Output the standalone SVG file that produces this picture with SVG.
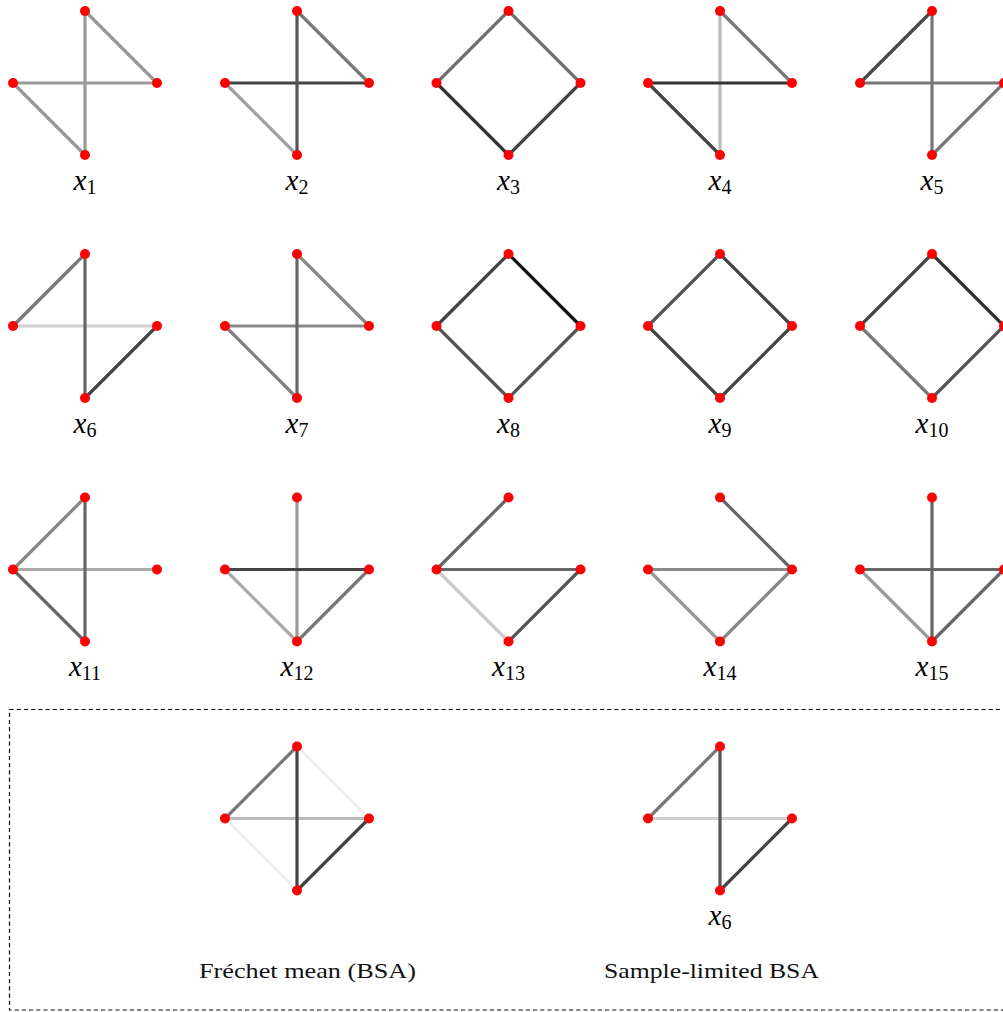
<svg xmlns="http://www.w3.org/2000/svg" width="1003" height="1012" viewBox="0 0 1003 1012">
<style>
.e{stroke-width:3.2;fill:none;stroke-linecap:butt}
.n{fill:#ff0000}
.lx{font-style:italic;font-size:29px;fill:#000}
.sub{font-style:normal;font-size:20px}
.cap{font-size:22px;fill:#111}
</style>
<rect width="1003" height="1012" fill="#ffffff"/>
<g font-family="Liberation Serif, Times New Roman, Times, serif">
<!-- Row 1 -->
<g id="g1" transform="translate(85,83)">
 <g class="connectors">
  <line class="e" x1="0" y1="-72" x2="72" y2="0" stroke="#9a9a9a"/>
  <line class="e" x1="-72" y1="0" x2="72" y2="0" stroke="#9a9a9a"/>
  <line class="e" x1="0" y1="-72" x2="0" y2="72" stroke="#9a9a9a"/>
  <line class="e" x1="-72" y1="0" x2="0" y2="72" stroke="#9a9a9a"/>
 </g>
 <circle class="n" cx="0" cy="-72" r="5"/><circle class="n" cx="-72" cy="0" r="5"/><circle class="n" cx="72" cy="0" r="5"/><circle class="n" cx="0" cy="72" r="5"/>
 <text class="lx" x="0" y="107" text-anchor="middle">x<tspan class="sub" dy="4">1</tspan></text>
</g>
<g id="g2" transform="translate(297,83)">
 <g class="connectors">
  <line class="e" x1="0" y1="-72" x2="72" y2="0" stroke="#777"/>
  <line class="e" x1="-72" y1="0" x2="72" y2="0" stroke="#444"/>
  <line class="e" x1="0" y1="-72" x2="0" y2="72" stroke="#555"/>
  <line class="e" x1="-72" y1="0" x2="0" y2="72" stroke="#a0a0a0"/>
 </g>
 <circle class="n" cx="0" cy="-72" r="5"/><circle class="n" cx="-72" cy="0" r="5"/><circle class="n" cx="72" cy="0" r="5"/><circle class="n" cx="0" cy="72" r="5"/>
 <text class="lx" x="0" y="107" text-anchor="middle">x<tspan class="sub" dy="4">2</tspan></text>
</g>
<g id="g3" transform="translate(508.5,83)">
 <g class="connectors">
  <line class="e" x1="0" y1="-72" x2="-72" y2="0" stroke="#707070"/>
  <line class="e" x1="0" y1="-72" x2="72" y2="0" stroke="#707070"/>
  <line class="e" x1="-72" y1="0" x2="0" y2="72" stroke="#333"/>
  <line class="e" x1="72" y1="0" x2="0" y2="72" stroke="#444"/>
 </g>
 <circle class="n" cx="0" cy="-72" r="5"/><circle class="n" cx="-72" cy="0" r="5"/><circle class="n" cx="72" cy="0" r="5"/><circle class="n" cx="0" cy="72" r="5"/>
 <text class="lx" x="0" y="107" text-anchor="middle">x<tspan class="sub" dy="4">3</tspan></text>
</g>
<g id="g4" transform="translate(720,83)">
 <g class="connectors">
  <line class="e" x1="0" y1="-72" x2="0" y2="72" stroke="#bbb"/>
  <line class="e" x1="0" y1="-72" x2="72" y2="0" stroke="#777"/>
  <line class="e" x1="-72" y1="0" x2="72" y2="0" stroke="#333"/>
  <line class="e" x1="-72" y1="0" x2="0" y2="72" stroke="#444"/>
 </g>
 <circle class="n" cx="0" cy="-72" r="5"/><circle class="n" cx="-72" cy="0" r="5"/><circle class="n" cx="72" cy="0" r="5"/><circle class="n" cx="0" cy="72" r="5"/>
 <text class="lx" x="0" y="107" text-anchor="middle">x<tspan class="sub" dy="4">4</tspan></text>
</g>
<g id="g5" transform="translate(932,83)">
 <g class="connectors">
  <line class="e" x1="0" y1="-72" x2="-72" y2="0" stroke="#444"/>
  <line class="e" x1="0" y1="-72" x2="0" y2="72" stroke="#777"/>
  <line class="e" x1="-72" y1="0" x2="72" y2="0" stroke="#777"/>
  <line class="e" x1="72" y1="0" x2="0" y2="72" stroke="#777"/>
 </g>
 <circle class="n" cx="0" cy="-72" r="5"/><circle class="n" cx="-72" cy="0" r="5"/><circle class="n" cx="72" cy="0" r="5"/><circle class="n" cx="0" cy="72" r="5"/>
 <text class="lx" x="0" y="107" text-anchor="middle">x<tspan class="sub" dy="4">5</tspan></text>
</g>
<!-- Row 2 -->
<g id="g6" transform="translate(85,326)">
 <g class="connectors">
  <line class="e" x1="0" y1="-72" x2="-72" y2="0" stroke="#777"/>
  <line class="e" x1="-72" y1="0" x2="72" y2="0" stroke="#d0d0d0"/>
  <line class="e" x1="0" y1="-72" x2="0" y2="72" stroke="#666"/>
  <line class="e" x1="72" y1="0" x2="0" y2="72" stroke="#444"/>
 </g>
 <circle class="n" cx="0" cy="-72" r="5"/><circle class="n" cx="-72" cy="0" r="5"/><circle class="n" cx="72" cy="0" r="5"/><circle class="n" cx="0" cy="72" r="5"/>
 <text class="lx" x="0" y="107" text-anchor="middle">x<tspan class="sub" dy="4">6</tspan></text>
</g>
<g id="g7" transform="translate(297,326)">
 <g class="connectors">
  <line class="e" x1="0" y1="-72" x2="72" y2="0" stroke="#888"/>
  <line class="e" x1="-72" y1="0" x2="72" y2="0" stroke="#888"/>
  <line class="e" x1="-72" y1="0" x2="0" y2="72" stroke="#808080"/>
  <line class="e" x1="0" y1="-72" x2="0" y2="72" stroke="#666"/>
 </g>
 <circle class="n" cx="0" cy="-72" r="5"/><circle class="n" cx="-72" cy="0" r="5"/><circle class="n" cx="72" cy="0" r="5"/><circle class="n" cx="0" cy="72" r="5"/>
 <text class="lx" x="0" y="107" text-anchor="middle">x<tspan class="sub" dy="4">7</tspan></text>
</g>
<g id="g8" transform="translate(508.5,326)">
 <g class="connectors">
  <line class="e" x1="0" y1="-72" x2="-72" y2="0" stroke="#444"/>
  <line class="e" x1="0" y1="-72" x2="72" y2="0" stroke="#111"/>
  <line class="e" x1="-72" y1="0" x2="0" y2="72" stroke="#555"/>
  <line class="e" x1="72" y1="0" x2="0" y2="72" stroke="#555"/>
 </g>
 <circle class="n" cx="0" cy="-72" r="5"/><circle class="n" cx="-72" cy="0" r="5"/><circle class="n" cx="72" cy="0" r="5"/><circle class="n" cx="0" cy="72" r="5"/>
 <text class="lx" x="0" y="107" text-anchor="middle">x<tspan class="sub" dy="4">8</tspan></text>
</g>
<g id="g9" transform="translate(720,326)">
 <g class="connectors">
  <line class="e" x1="0" y1="-72" x2="-72" y2="0" stroke="#555"/>
  <line class="e" x1="0" y1="-72" x2="72" y2="0" stroke="#444"/>
  <line class="e" x1="-72" y1="0" x2="0" y2="72" stroke="#444"/>
  <line class="e" x1="72" y1="0" x2="0" y2="72" stroke="#444"/>
 </g>
 <circle class="n" cx="0" cy="-72" r="5"/><circle class="n" cx="-72" cy="0" r="5"/><circle class="n" cx="72" cy="0" r="5"/><circle class="n" cx="0" cy="72" r="5"/>
 <text class="lx" x="0" y="107" text-anchor="middle">x<tspan class="sub" dy="4">9</tspan></text>
</g>
<g id="g10" transform="translate(932,326)">
 <g class="connectors">
  <line class="e" x1="0" y1="-72" x2="-72" y2="0" stroke="#444"/>
  <line class="e" x1="0" y1="-72" x2="72" y2="0" stroke="#333"/>
  <line class="e" x1="-72" y1="0" x2="0" y2="72" stroke="#777"/>
  <line class="e" x1="72" y1="0" x2="0" y2="72" stroke="#555"/>
 </g>
 <circle class="n" cx="0" cy="-72" r="5"/><circle class="n" cx="-72" cy="0" r="5"/><circle class="n" cx="72" cy="0" r="5"/><circle class="n" cx="0" cy="72" r="5"/>
 <text class="lx" x="0" y="107" text-anchor="middle">x<tspan class="sub" dy="4">10</tspan></text>
</g>
<!-- Row 3 -->
<g id="g11" transform="translate(85,569.5)">
 <g class="connectors">
  <line class="e" x1="0" y1="-72" x2="-72" y2="0" stroke="#888"/>
  <line class="e" x1="-72" y1="0" x2="72" y2="0" stroke="#aaa"/>
  <line class="e" x1="-72" y1="0" x2="0" y2="72" stroke="#666"/>
  <line class="e" x1="0" y1="-72" x2="0" y2="72" stroke="#666"/>
 </g>
 <circle class="n" cx="0" cy="-72" r="5"/><circle class="n" cx="-72" cy="0" r="5"/><circle class="n" cx="72" cy="0" r="5"/><circle class="n" cx="0" cy="72" r="5"/>
 <text class="lx" x="0" y="106.5" text-anchor="middle">x<tspan class="sub" dy="4">11</tspan></text>
</g>
<g id="g12" transform="translate(297,569.5)">
 <g class="connectors">
  <line class="e" x1="0" y1="-72" x2="0" y2="72" stroke="#999"/>
  <line class="e" x1="-72" y1="0" x2="72" y2="0" stroke="#444"/>
  <line class="e" x1="-72" y1="0" x2="0" y2="72" stroke="#aaa"/>
  <line class="e" x1="72" y1="0" x2="0" y2="72" stroke="#777"/>
 </g>
 <circle class="n" cx="0" cy="-72" r="5"/><circle class="n" cx="-72" cy="0" r="5"/><circle class="n" cx="72" cy="0" r="5"/><circle class="n" cx="0" cy="72" r="5"/>
 <text class="lx" x="0" y="106.5" text-anchor="middle">x<tspan class="sub" dy="4">12</tspan></text>
</g>
<g id="g13" transform="translate(508.5,569.5)">
 <g class="connectors">
  <line class="e" x1="0" y1="-72" x2="-72" y2="0" stroke="#666"/>
  <line class="e" x1="-72" y1="0" x2="0" y2="72" stroke="#ccc"/>
  <line class="e" x1="-72" y1="0" x2="72" y2="0" stroke="#666"/>
  <line class="e" x1="72" y1="0" x2="0" y2="72" stroke="#555"/>
 </g>
 <circle class="n" cx="0" cy="-72" r="5"/><circle class="n" cx="-72" cy="0" r="5"/><circle class="n" cx="72" cy="0" r="5"/><circle class="n" cx="0" cy="72" r="5"/>
 <text class="lx" x="0" y="106.5" text-anchor="middle">x<tspan class="sub" dy="4">13</tspan></text>
</g>
<g id="g14" transform="translate(720,569.5)">
 <g class="connectors">
  <line class="e" x1="0" y1="-72" x2="72" y2="0" stroke="#666"/>
  <line class="e" x1="-72" y1="0" x2="72" y2="0" stroke="#888"/>
  <line class="e" x1="-72" y1="0" x2="0" y2="72" stroke="#999"/>
  <line class="e" x1="72" y1="0" x2="0" y2="72" stroke="#888"/>
 </g>
 <circle class="n" cx="0" cy="-72" r="5"/><circle class="n" cx="-72" cy="0" r="5"/><circle class="n" cx="72" cy="0" r="5"/><circle class="n" cx="0" cy="72" r="5"/>
 <text class="lx" x="0" y="106.5" text-anchor="middle">x<tspan class="sub" dy="4">14</tspan></text>
</g>
<g id="g15" transform="translate(932,569.5)">
 <g class="connectors">
  <line class="e" x1="-72" y1="0" x2="0" y2="72" stroke="#999"/>
  <line class="e" x1="0" y1="-72" x2="0" y2="72" stroke="#666"/>
  <line class="e" x1="-72" y1="0" x2="72" y2="0" stroke="#666"/>
  <line class="e" x1="72" y1="0" x2="0" y2="72" stroke="#666"/>
 </g>
 <circle class="n" cx="0" cy="-72" r="5"/><circle class="n" cx="-72" cy="0" r="5"/><circle class="n" cx="72" cy="0" r="5"/><circle class="n" cx="0" cy="72" r="5"/>
 <text class="lx" x="0" y="106.5" text-anchor="middle">x<tspan class="sub" dy="4">15</tspan></text>
</g>
<!-- Bottom box -->
<rect id="box" x="9.5" y="709.5" width="1010" height="300.5" fill="none" stroke="#111" stroke-width="1.2" stroke-dasharray="4.2 3"/>
<g id="frechet" transform="translate(297,818.5)">
 <g class="connectors">
  <line class="e" x1="0" y1="-72" x2="72" y2="0" stroke="#eee"/>
  <line class="e" x1="-72" y1="0" x2="0" y2="72" stroke="#eee"/>
  <line class="e" x1="-72" y1="0" x2="72" y2="0" stroke="#bbb"/>
  <line class="e" x1="0" y1="-72" x2="-72" y2="0" stroke="#777"/>
  <line class="e" x1="0" y1="-72" x2="0" y2="72" stroke="#444"/>
  <line class="e" x1="72" y1="0" x2="0" y2="72" stroke="#444"/>
 </g>
 <circle class="n" cx="0" cy="-72" r="5"/><circle class="n" cx="-72" cy="0" r="5"/><circle class="n" cx="72" cy="0" r="5"/><circle class="n" cx="0" cy="72" r="5"/>
</g>
<g id="samplelimited" transform="translate(720,818.5)">
 <g class="connectors">
  <line class="e" x1="0" y1="-72" x2="-72" y2="0" stroke="#777"/>
  <line class="e" x1="-72" y1="0" x2="72" y2="0" stroke="#d0d0d0"/>
  <line class="e" x1="0" y1="-72" x2="0" y2="72" stroke="#555"/>
  <line class="e" x1="72" y1="0" x2="0" y2="72" stroke="#444"/>
 </g>
 <circle class="n" cx="0" cy="-72" r="5"/><circle class="n" cx="-72" cy="0" r="5"/><circle class="n" cx="72" cy="0" r="5"/><circle class="n" cx="0" cy="72" r="5"/>
 <text class="lx" x="0" y="106.5" text-anchor="middle">x<tspan class="sub" dy="4">6</tspan></text>
</g>
<text class="cap" x="307.5" y="978" text-anchor="middle" textLength="217" lengthAdjust="spacingAndGlyphs">Fréchet mean (BSA)</text>
<text class="cap" x="711.5" y="978" text-anchor="middle" textLength="215" lengthAdjust="spacingAndGlyphs">Sample-limited BSA</text>
</g>
</svg>
